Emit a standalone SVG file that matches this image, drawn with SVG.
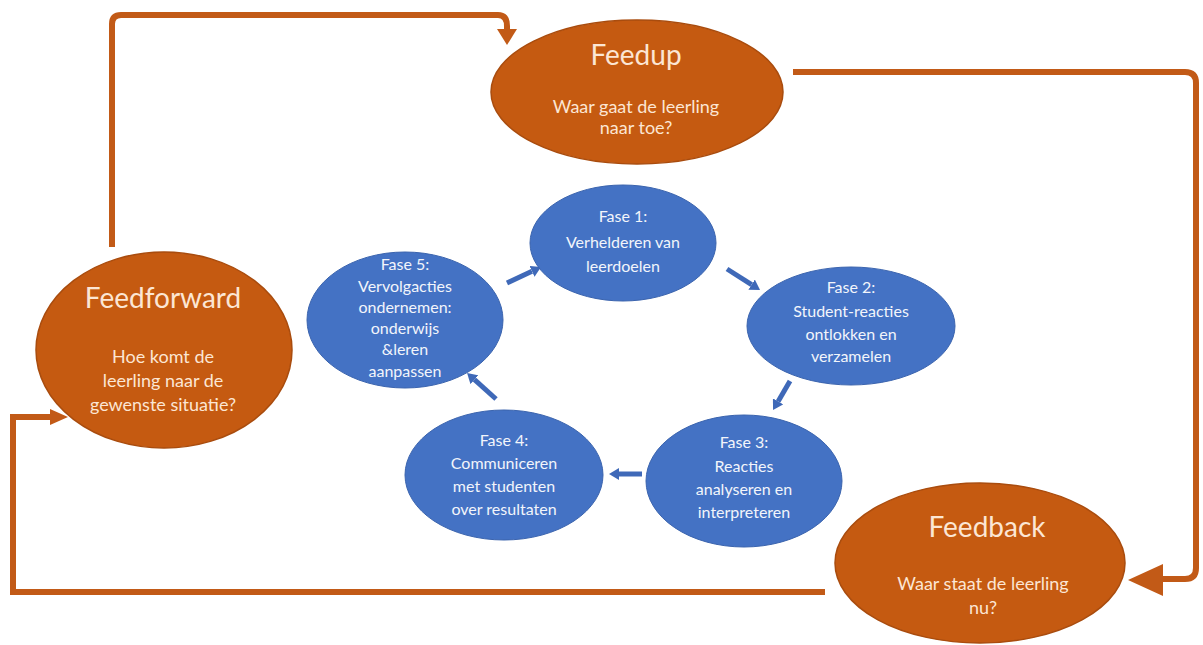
<svg xmlns="http://www.w3.org/2000/svg" width="1203" height="645" viewBox="0 0 1203 645">
<defs>
<style>
.oe{fill:#C55A11;stroke:#A94C0E;stroke-width:1.5}
.be{fill:#4472C4;stroke:#3B64AE;stroke-width:1}
.ot{font-family:Lato,"Liberation Sans",sans-serif;fill:#FCE6D4;text-anchor:middle}
.title{font-size:28px}
.sub{font-size:18px}
.bt{font-family:Lato,"Liberation Sans",sans-serif;fill:#F2F5FB;text-anchor:middle;font-size:16px}
.oc{fill:none;stroke:#C25A17;stroke-width:6;stroke-linejoin:miter}
.bc{fill:none;stroke:#3F69B8;stroke-width:5}
</style>
<marker id="bh" viewBox="0 0 10 12" refX="0" refY="6" markerWidth="10" markerHeight="12" markerUnits="userSpaceOnUse" orient="auto">
<path d="M0,0 L10,6 L0,12 z" fill="#3F69B8"/>
</marker>
</defs>
<rect width="1203" height="645" fill="#ffffff"/>
<g id="connectors">
<path class="oc" d="M112,247 V24 Q112,15 121,15 H498 Q507,15 507,26 V30"/>
<polygon points="497,29 517,29 507,45" fill="#C25A17"/>
<path class="oc" d="M793,72 H1185 Q1196,72 1196,83 V568 Q1196,579 1185,579 H1158"/>
<polygon points="1128,580 1163,564 1163,596" fill="#C25A17"/>
<path class="oc" d="M825,592 H13 V417 H52"/>
<polygon points="50,409 68,417 50,425" fill="#C25A17"/>
<path class="bc" d="M507,283 L532,271.3" marker-end="url(#bh)"/>
<path class="bc" d="M727,269 L751.6,284.6" marker-end="url(#bh)"/>
<path class="bc" d="M790,381 L778.1,401.4" marker-end="url(#bh)"/>
<path class="bc" d="M642,474 L619,474" marker-end="url(#bh)"/>
<path class="bc" d="M496,399 L474.5,379.7" marker-end="url(#bh)"/>
</g>
<g id="feedup">
<ellipse class="oe" cx="637" cy="92" rx="146" ry="72"/>
<text class="ot title" x="636" y="65">Feedup</text>
<text class="ot sub" x="636" y="113">Waar gaat de leerling</text>
<text class="ot sub" x="636" y="134">naar toe?</text>
</g>
<g id="feedforward">
<ellipse class="oe" cx="164" cy="350" rx="128" ry="98"/>
<text class="ot title" x="163" y="308">Feedforward</text>
<text class="ot sub" x="163" y="363">Hoe komt de</text>
<text class="ot sub" x="163" y="387">leerling naar de</text>
<text class="ot sub" x="163" y="411">gewenste situatie?</text>
</g>
<g id="feedback">
<ellipse class="oe" cx="980" cy="563" rx="145" ry="80"/>
<text class="ot title" x="987" y="537">Feedback</text>
<text class="ot sub" x="983" y="590">Waar staat de leerling</text>
<text class="ot sub" x="983" y="614">nu?</text>
</g>
<g id="fase1">
<ellipse class="be" cx="623" cy="243" rx="93" ry="58"/>
<text class="bt" x="623" y="222">Fase 1:</text>
<text class="bt" x="623" y="248">Verhelderen van</text>
<text class="bt" x="623" y="272">leerdoelen</text>
</g>
<g id="fase2">
<ellipse class="be" cx="851" cy="326" rx="104" ry="59"/>
<text class="bt" x="851" y="293">Fase 2:</text>
<text class="bt" x="851" y="317">Student-reacties</text>
<text class="bt" x="851" y="340">ontlokken en</text>
<text class="bt" x="851" y="362">verzamelen</text>
</g>
<g id="fase3">
<ellipse class="be" cx="744" cy="481" rx="98" ry="66"/>
<text class="bt" x="744" y="448">Fase 3:</text>
<text class="bt" x="744" y="472">Reacties</text>
<text class="bt" x="744" y="495">analyseren en</text>
<text class="bt" x="744" y="518">interpreteren</text>
</g>
<g id="fase4">
<ellipse class="be" cx="504" cy="475" rx="99" ry="65"/>
<text class="bt" x="504" y="446">Fase 4:</text>
<text class="bt" x="504" y="469">Communiceren</text>
<text class="bt" x="504" y="492">met studenten</text>
<text class="bt" x="504" y="515">over resultaten</text>
</g>
<g id="fase5">
<ellipse class="be" cx="405" cy="320" rx="98" ry="68"/>
<text class="bt" x="405" y="270">Fase 5:</text>
<text class="bt" x="405" y="292">Vervolgacties</text>
<text class="bt" x="405" y="313">ondernemen:</text>
<text class="bt" x="405" y="334">onderwijs</text>
<text class="bt" x="405" y="355">&amp;leren</text>
<text class="bt" x="405" y="377">aanpassen</text>
</g>
</svg>
